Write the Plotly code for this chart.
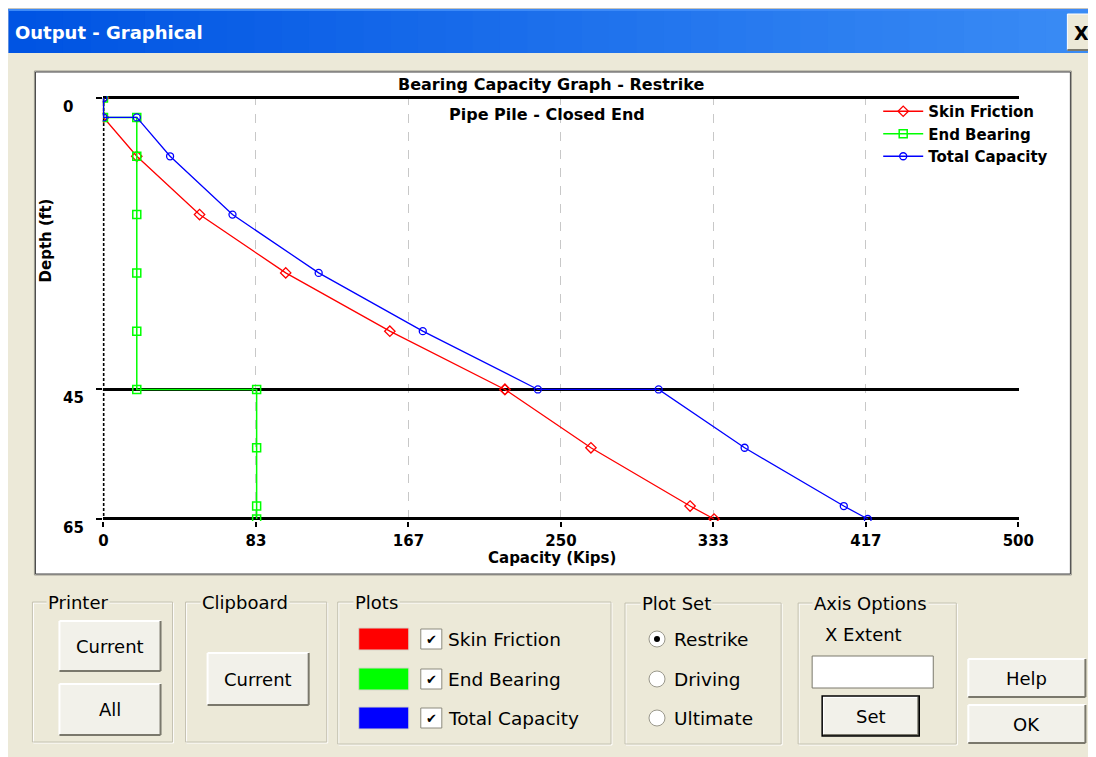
import plotly.graph_objects as go

# ---- data (depth in ft, capacity in kips) ----
skin_depth = [0, 3, 9, 18, 27, 36, 45, 45, 54, 63, 65]
skin_friction = [0, 0, 18.2, 52.5, 99.6, 156.5, 219.4, 219.4, 266.4, 320.6, 333.7]

end_depth = [0, 3, 3, 9, 18, 27, 36, 45, 45, 54, 63, 65]
end_bearing = [0, 0, 18.2, 18.2, 18.2, 18.2, 18.2, 18.2, 83.7, 83.7, 83.7, 83.7]

total_depth = [0, 3, 3, 9, 18, 27, 36, 45, 45, 54, 63, 65]
total_capacity = [0, 0, 18.2, 36.4, 70.5, 117.6, 174.5, 237.4, 303.4, 350.4, 404.6, 417.7]

x_tick_vals = [0, 83.333, 166.667, 250, 333.333, 416.667, 500]
x_tick_text = ["0", "83", "167", "250", "333", "417", "500"]
depth_ticks = [0, 45, 65]

# the page keeps an 8px body margin; the figure fills the rest of the window
W, H = 1088, 749
BEIGE = "#ECE9D8"
FONT = "DejaVu Sans"

# screen -> paper mapping (paper area measured from the rendered output)
X0, XW = 12.6, 1068.0
Y0 = 8


def px(x):
    return (x - X0) / XW


def py(y):
    return 1 - (y - Y0) / H


shapes = []
notes = []


def rect(x0, y0, x1, y1, fill=None, line=None, lw=1, layer="below"):
    shapes.append(dict(
        type="rect", xref="paper", yref="paper",
        x0=px(x0), x1=px(x1), y0=py(y1), y1=py(y0),
        fillcolor=fill or "rgba(0,0,0,0)",
        line=dict(color=line or "rgba(0,0,0,0)", width=lw if line else 0),
        layer=layer))


def seg(x0, y0, x1, y1, color, lw=1, layer="below"):
    shapes.append(dict(
        type="line", xref="paper", yref="paper",
        x0=px(x0), x1=px(x1), y0=py(y0), y1=py(y1),
        line=dict(color=color, width=lw), layer=layer))


def text(x, y, s, size=18, bold=False, color="black", anchor="center", bg=None, angle=0):
    notes.append(dict(
        xref="paper", yref="paper", x=px(x), y=py(y), text=s, showarrow=False,
        xanchor=anchor, yanchor="middle", textangle=angle,
        font=dict(family=FONT, size=size, color=color, weight="bold" if bold else "normal"),
        bgcolor=bg, borderpad=1))


def button(x0, y0, x1, y1, label, default=False):
    rect(x0, y0, x1, y1, fill="#F2F1EA")
    seg(x0, y0, x1, y0, "white", 2)
    seg(x0, y0, x0, y1, "white", 2)
    seg(x0, y1, x1, y1, "#7A786C", 2)
    seg(x1, y0, x1, y1, "#7A786C", 2)
    if default:
        rect(x0 - 1, y0 - 1, x1 + 1, y1 + 1, line="black", lw=1.5)
    text((x0 + x1) / 2, (y0 + y1) / 2, label)


def group(x0, y0, x1, y1, label, lx):
    rect(x0 + 1, y0 + 1, x1 + 1, y1 + 1, line="white", lw=1)
    rect(x0, y0, x1, y1, line="#C5C2B2", lw=1)
    text(lx, y0, label, anchor="left", bg=BEIGE)


# ---- window chrome ----
rect(9, 9, 1100, 760, fill=BEIGE)
seg(8, 8, 1100, 8, "#A0A0A0", 1)
seg(8, 8, 8, 760, "#A0A0A0", 1)
n = 40
step = (1100 - 9) / n
for i in range(n):
    t = i / (n - 1)
    c = (int(0 + 58 * t), int(84 + 56 * t), int(227 + 18 * t))
    xa = 9 + i * step
    rect(xa, 9, xa + step + 1, 53, fill="rgb(%d,%d,%d)" % c)
seg(9, 10, 1100, 10, "#3D8AF7", 2)
text(14, 33, "Output - Graphical", size=18, bold=True, color="white", anchor="left")
rect(1067, 14, 1100, 50, fill=BEIGE, line="white", lw=1)
seg(1067, 50, 1100, 50, "#7A786C", 2)
text(1081, 33, "X", size=19, bold=True)

# chart panel
rect(35, 71, 1071, 575, fill="white", line="#9C9A8E", lw=1)
rect(36, 72, 1070, 574, line="#404040", lw=1)

# chart labels
text(551, 84, "Bearing Capacity Graph - Restrike", size=16, bold=True)
text(547, 114, "Pipe Pile - Closed End", size=16, bold=True)
text(552, 558, "Capacity (Kips)", size=15, bold=True)
text(47, 240, "Depth (ft)", size=15, bold=True, angle=-90)

# ---- controls below the chart ----
group(33, 602, 173, 742, "Printer", 47)
button(60, 621, 161, 671, "Current")
button(60, 684, 161, 735, "All")

group(186, 602, 327, 742, "Clipboard", 200)
button(208, 653, 309, 705, "Current")

group(338, 602, 611, 744, "Plots", 353)
plot_names = ["Skin Friction", "End Bearing", "Total Capacity"]
plot_colors = ["#FF0000", "#00FF00", "#0000FF"]
row_y = [639, 679, 718]
for name, col, yy in zip(plot_names, plot_colors, row_y):
    rect(359, yy - 11, 409, yy + 11, fill=col, line="#D8D6CA", lw=1)
    rect(421, yy - 10, 442, yy + 10, fill="white", line="#8C8A7E", lw=1)
    text(431.5, yy, "✔", size=13)
    text(446, yy, name, size=18.5, anchor="left")

group(625, 603, 781, 744, "Plot Set", 640)
for lab, yy, on in zip(["Restrike", "Driving", "Ultimate"], row_y, [True, False, False]):
    shapes.append(dict(type="circle", xref="paper", yref="paper",
                       x0=px(649), x1=px(665), y0=py(yy + 8), y1=py(yy - 8),
                       fillcolor="white", line=dict(color="#9A988C", width=1), layer="below"))
    if on:
        shapes.append(dict(type="circle", xref="paper", yref="paper",
                           x0=px(654), x1=px(660), y0=py(yy + 3), y1=py(yy - 3),
                           fillcolor="black", line=dict(width=0), layer="below"))
    text(672, yy, lab, size=18.5, anchor="left")

group(798, 603, 956, 744, "Axis Options", 812)
text(863, 634, "X Extent")
rect(812, 656, 933, 688, fill="white", line="#7A786C", lw=1)
button(823, 697, 918, 735, "Set", default=True)

button(968, 659, 1085, 697, "Help")
button(968, 705, 1085, 743, "OK")

# y tick labels, sitting a little under each boundary line
for d in depth_ticks:
    notes.append(dict(xref="paper", yref="y", x=px(62), y=d, yshift=-9, text=str(d),
                      showarrow=False, xanchor="left", yanchor="middle",
                      font=dict(family=FONT, size=15, color="black", weight="bold")))

# black dashed y-axis line at zero capacity
shapes.append(dict(type="line", xref="x", yref="y", x0=0, x1=0, y0=0, y1=65,
                   line=dict(color="black", width=2, dash="3px,2px"), layer="between"))

fig = go.Figure()
fig.add_trace(go.Scatter(
    x=skin_friction, y=skin_depth, mode="lines+markers", name="Skin Friction",
    line=dict(color="#FF0000", width=1.3),
    marker=dict(symbol="diamond-open", size=8, color="#FF0000", line=dict(width=1.3))))
fig.add_trace(go.Scatter(
    x=end_bearing, y=end_depth, mode="lines+markers", name="End Bearing",
    line=dict(color="#00FF00", width=1.5),
    marker=dict(symbol="square-open", size=8, color="#00FF00", line=dict(width=1.5))))
fig.add_trace(go.Scatter(
    x=total_capacity, y=total_depth, mode="lines+markers", name="Total Capacity",
    line=dict(color="#0000FF", width=1.3),
    marker=dict(symbol="circle-open", size=7, color="#0000FF", line=dict(width=1.3))))

# plot area on screen: capacity 0 -> x=104, 500 -> x=1018; depth 0 -> y=98, 65 -> y=519
kpx = (1018 - 104) / 500
fpx = (519 - 98) / 65
xr = [-0.4, 500.4]
yr = [65.3, -0.3]

fig.update_layout(
    width=W, height=H,
    margin=dict(l=0, r=0, t=0, b=0),
    paper_bgcolor=BEIGE,
    plot_bgcolor="white",
    showlegend=True,
    legend=dict(x=px(878), y=py(95), xanchor="left", yanchor="top",
                bgcolor="rgba(0,0,0,0)", itemwidth=40, tracegroupgap=0,
                font=dict(family=FONT, size=15, color="black", weight="bold")),
    xaxis=dict(domain=[px(104 + xr[0] * kpx), px(104 + xr[1] * kpx)], range=xr,
               tickvals=x_tick_vals, ticktext=x_tick_text, ticks="outside", ticklen=5,
               tickwidth=2, tickcolor="black", showgrid=True, gridcolor="#C8C8C8",
               griddash="dash", gridwidth=1, zeroline=False, showline=False,
               ticklabelstandoff=1,
               tickfont=dict(family=FONT, size=15, color="black", weight="bold")),
    yaxis=dict(domain=[py(98 + yr[0] * fpx), py(98 + yr[1] * fpx)], range=yr,
               tickvals=depth_ticks, showticklabels=False, ticks="outside", ticklen=6,
               tickwidth=2, tickcolor="black", showgrid=True, gridcolor="black",
               gridwidth=3, zeroline=False, showline=False),
    shapes=shapes,
    annotations=notes,
)

fig.write_html("out.html")
